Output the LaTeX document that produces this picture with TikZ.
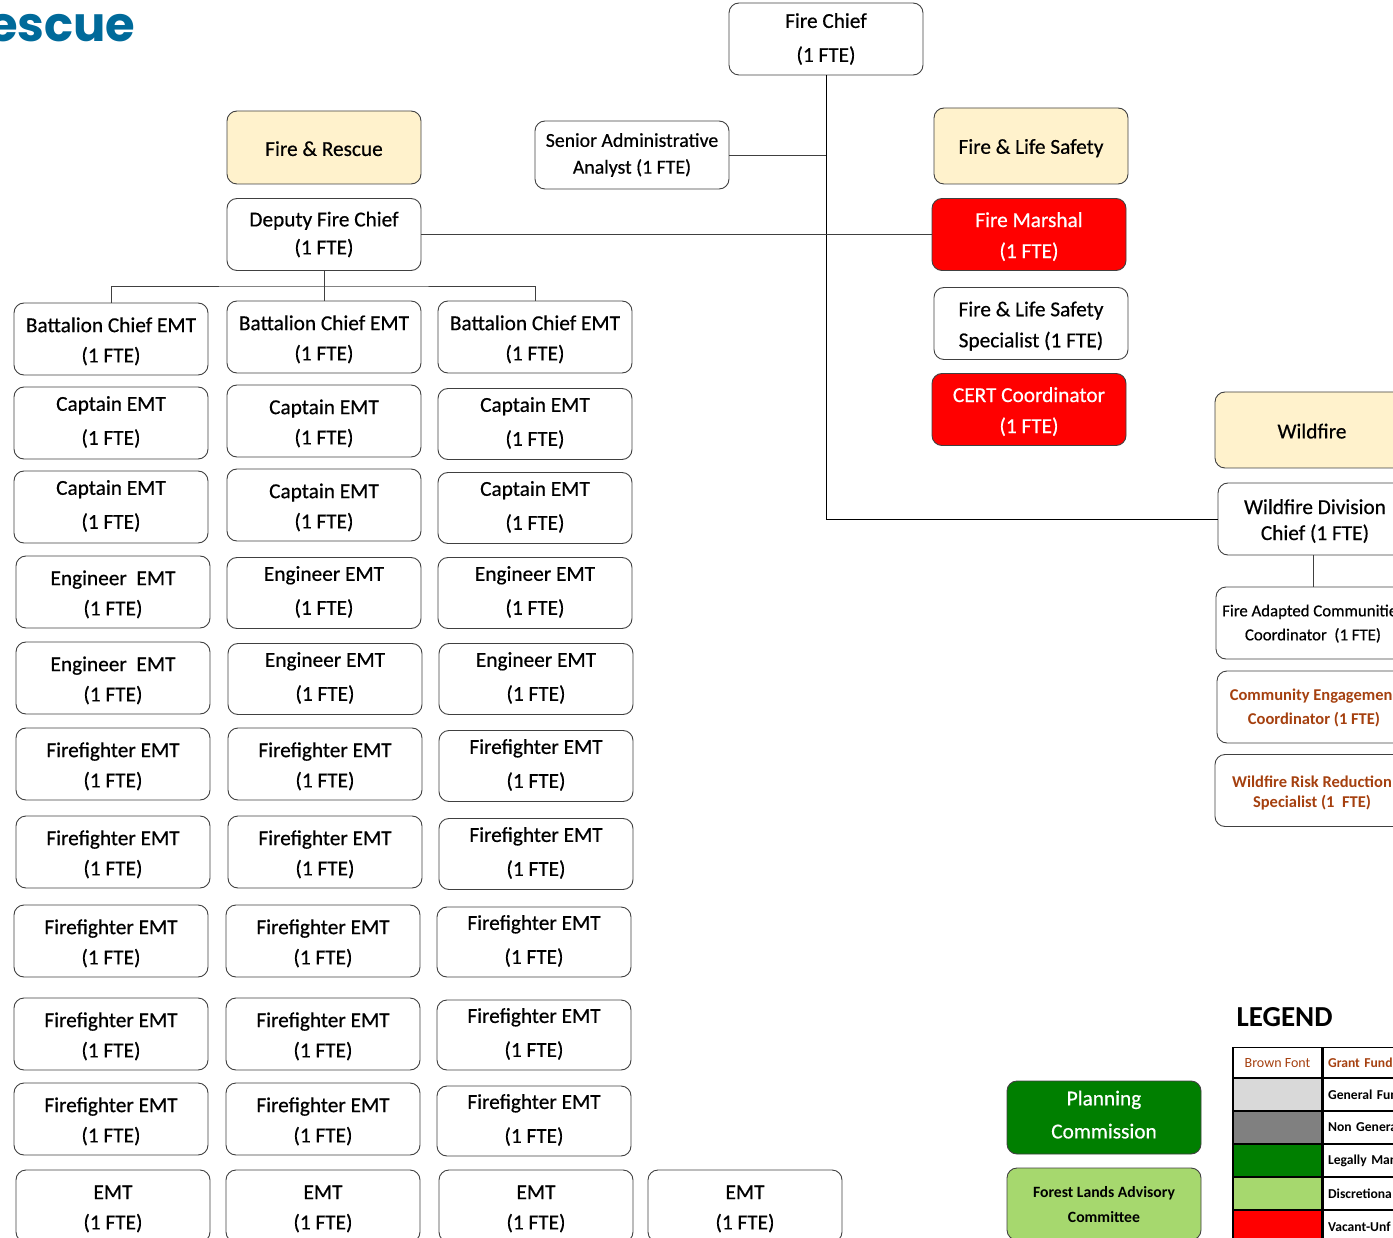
\documentclass[tikz,border=0pt]{standalone}
\usepackage{fontspec}
\setmainfont{Carlito}[UprightFeatures={FakeBold=0.5}]
\newfontfamily\logofont{Poppins}
\newfontfamily\plainfont{Carlito}
\definecolor{lineg}{HTML}{404040}
\definecolor{headery}{HTML}{FFF2CC}
\definecolor{brownt}{HTML}{A5400F}
\definecolor{mandg}{HTML}{007F00}
\definecolor{discg}{HTML}{A6D86E}
\definecolor{logob}{HTML}{006A9A}
% the two line spacings of the staff boxes
\newcommand{\tightrow}[1]{\rule{0pt}{19.5pt}#1\\[9pt](1 FTE)}
\newcommand{\widerow}[1]{#1\\[12.7pt](1 FTE)\rule[-5pt]{0pt}{5pt}}
\tikzset{
	box/.style={draw=lineg, line width=0.9pt, rounded corners=10pt, minimum width=194pt, minimum height=72pt,
		inner sep=0pt, align=center, font=\fontsize{21.3}{21.3}\selectfont},
	header/.style={box, fill=headery},
	vacant/.style={box, fill=red, text=white},
	mand/.style={box, fill=mandg, text=white},
	disc/.style={box, fill=discg},
	grant/.style={box, text=brownt, font=\fontsize{16.5}{16.5}\selectfont},
	small/.style={font=\fontsize{16.8}{16.8}\selectfont},
	cell/.style={draw=black, line width=1.6pt, minimum width=89pt, minimum height=33pt, inner sep=0pt},
	key/.style={cell, minimum width=100pt, anchor=west, text width=91pt, align=left, font=\fontsize{13.6}{13.6}\bfseries\selectfont},
	link/.style={draw=lineg, line width=0.9pt},
}
\begin{document}
\begin{tikzpicture}[x=1pt, y=-1pt]
	\useasboundingbox (0, 0) rectangle (1393, 1238);
	\clip (0, 0) rectangle (1393, 1238);

	% crews, three columns and the last row
	\foreach \n/\x/\y/\h/\fmt/\role in {
		a1/111/339/72/\tightrow/Battalion Chief EMT, b1/324/337/72/\tightrow/Battalion Chief EMT, c1/535/337/72/\tightrow/Battalion Chief EMT,
		a2/111/423/72/\widerow/Captain EMT, b2/324/421/72/\tightrow/Captain EMT, c2/535/424/71/\widerow/Captain EMT,
		a3/111/507/72/\widerow/Captain EMT, b3/324/505/72/\tightrow/Captain EMT, c3/535/508/71/\widerow/Captain EMT,
		a4/113/592/72/\tightrow/Engineer\ \ EMT, b4/324/593/71/\widerow/Engineer EMT, c4/535/593/71/\widerow/Engineer EMT,
		a5/113/678/72/\tightrow/Engineer\ \ EMT, b5/325/679/71/\widerow/Engineer EMT, c5/536/679/71/\widerow/Engineer EMT,
		a6/113/764/72/\tightrow/Firefighter EMT, b6/325/764/72/\tightrow/Firefighter EMT, c6/536/766/71/\widerow/Firefighter EMT,
		a7/113/852/72/\tightrow/Firefighter EMT, b7/325/852/72/\tightrow/Firefighter EMT, c7/536/854/71/\widerow/Firefighter EMT,
		a8/111/941/72/\tightrow/Firefighter EMT, b8/323/941/72/\tightrow/Firefighter EMT, c8/534/942/70/\widerow/Firefighter EMT,
		a9/111/1034/72/\tightrow/Firefighter EMT, b9/323/1034/72/\tightrow/Firefighter EMT, c9/534/1035/70/\widerow/Firefighter EMT,
		a10/111/1119/72/\tightrow/Firefighter EMT, b10/323/1119/72/\tightrow/Firefighter EMT, c10/534/1121/70/\widerow/Firefighter EMT,
		a11/113/1206/72/\tightrow/EMT, b11/323/1206/72/\tightrow/EMT, c11/536/1206/72/\tightrow/EMT, d11/745/1206/72/\tightrow/EMT}{
		\node[box, minimum height=\h pt] (\n) at (\x, \y) {\fmt{\role}};
	}

	\node[box] (chief) at (826, 39) {Fire Chief\\[12.7pt](1 FTE)};
	\node[box, minimum height=68pt, font=\fontsize{19.8}{19.8}\selectfont] (analyst) at (632, 155) {Senior Administrative\\[7pt]Analyst (1 FTE)};
	\node[header, minimum height=73pt] (rescue) at (324, 147.5) {\rule{0pt}{17pt}Fire \& Rescue};
	\node[box] (deputy) at (324, 234.5) {Deputy Fire Chief\\[6.7pt](1 FTE)};

	\node[header, minimum height=76pt] (safety) at (1031, 146) {\rule{0pt}{19pt}Fire \& Life Safety};
	\node[vacant] (marshal) at (1029, 234.5) {\rule{0pt}{19pt}Fire Marshal\\[9.7pt](1 FTE)};
	\node[box] (specialist) at (1031, 323.5) {\rule{0pt}{20pt}Fire \& Life Safety\\[9.7pt]Specialist (1 FTE)};
	\node[vacant] (cert) at (1029, 409.5) {\rule{0pt}{19pt}CERT Coordinator\\[9.7pt](1 FTE)};

	\node[header, minimum height=76pt] (wildfire) at (1312, 430) {\rule{0pt}{17pt}Wildfire};
	\node[box] (division) at (1315, 519) {\rule{0pt}{19pt}Wildfire Division\\[4.7pt]Chief (1 FTE)};
	\node[box, small] (adapted) at (1313, 623) {\rule{0pt}{13pt}Fire Adapted Communitie\phantom{s}\\[7.2pt]Coordinator\ \ (1 FTE)};
	\node[grant] (engage) at (1314, 707) {\rule{0pt}{13pt}\bfseries Community Engagemen\phantom{t}\\[7.5pt]\bfseries Coordinator (1 FTE)};
	\node[grant] (risk) at (1312, 790.5) {\rule{0pt}{16pt}\bfseries Wildfire Risk Reduction\\[3.5pt]\bfseries Specialist (1\ \ FTE)};

	\node[mand, minimum height=73pt] (planning) at (1104, 1117.5) {Planning\\[11.7pt]Commission\rule[-6pt]{0pt}{6pt}};
	\node[disc, font=\fontsize{15.7}{15.7}\selectfont] (forest) at (1104, 1204) {\rule{0pt}{12pt}\bfseries Forest Lands Advisory\\[9.3pt]\bfseries Committee};

	% legend
	\node[anchor=west, font=\fontsize{29}{29}\bfseries\selectfont] (legend) at (1233, 1017) {LEGEND};
	\foreach \n/\y/\col/\txt in {1/1094.5/black!15/General Fun, 2/1127.5/black!50/Non Genera,
		3/1160.5/mandg/Legally Man, 4/1193.5/discg/Discretiona, 5/1226.5/red/Vacant-Unf}{
		\node[cell, fill=\col] (swatch\n) at (1277.5, \y) {};
		\node[key] (key\n) at (swatch\n.east) {\txt};
	}
	\node[cell, minimum height=31pt, text=brownt, font=\plainfont\fontsize{14}{14}\selectfont] (swatch0) at (1277.5, 1063) {Brown Font\hspace{3pt}};
	\node[key, minimum height=31pt, text=brownt] (key0) at (swatch0.east) {Grant Fund};

	% logo cut by the page edge
	\node[anchor=base west, inner sep=0pt, text=logob, font=\logofont\fontsize{48}{48}\bfseries\selectfont] (logo) at (-12, 42) {escue};

	% connectors
	\draw[black, line width=1pt] (chief.south) -- (chief.south |- division.west) -- (division.west);
	\draw[link] (analyst.east) -- (analyst.east -| chief.south);
	\draw[link] (deputy.east) -- (marshal.west);
	\coordinate (bus) at (deputy.south |- 0, 286);
	\draw[link] (deputy.south) -- (b1.north);
	\draw[link] (a1.north) |- (bus) -| (c1.north);
	\draw[link] (adapted.north) -- (adapted.north |- division.south);
\end{tikzpicture}
\end{document}
